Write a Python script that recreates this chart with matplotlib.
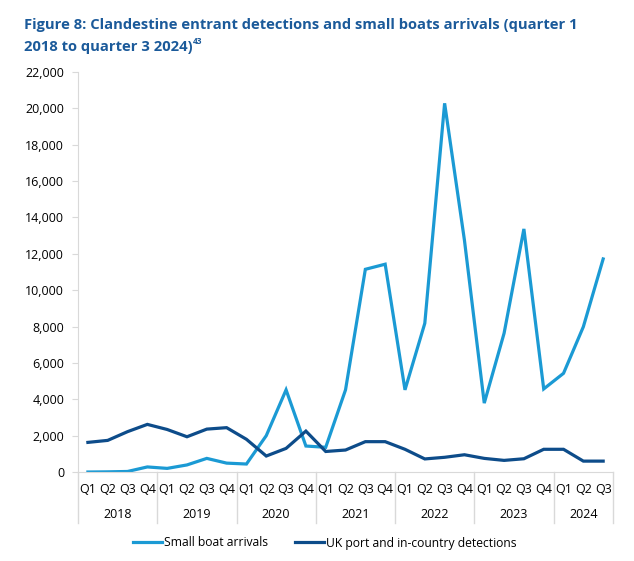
import matplotlib

matplotlib.use("Agg")
import matplotlib.pyplot as plt
from matplotlib.lines import Line2D
from matplotlib.transforms import blended_transform_factory

plt.rcParams["font.family"] = ["Open Sans", "DejaVu Sans"]

YEARS = ["2018", "2019", "2020", "2021", "2022", "2023", "2024"]
QUARTERS_PER_YEAR = [4, 4, 4, 4, 4, 4, 3]
QUARTER_LABELS = ["Q1", "Q2", "Q3", "Q4"] * 6 + ["Q1", "Q2", "Q3"]

small_boats = [0, 10, 30, 280, 200, 390, 750, 490,
               440, 2000, 4520, 1430, 1360, 4520, 11150, 11430,
               4520, 8180, 20280, 12750, 3790, 7630, 13370, 4570,
               5430, 7990, 11720]
uk_detections = [1630, 1740, 2220, 2620, 2340, 1940, 2360, 2440,
                 1800, 880, 1300, 2250, 1130, 1210, 1670, 1670,
                 1250, 720, 810, 950, 750, 640, 730, 1250,
                 1250, 600, 600]

LIGHT = "#1b9ad4"
DARK = "#0d4c8a"
GREY = "#d9d9d9"
FS = 9

fig = plt.figure(figsize=(6.34, 5.61), dpi=100)
ax = fig.add_axes([0.123, 0.1586, 0.844, 0.713])

x = list(range(len(small_boats)))
ax.plot(x, small_boats, color=LIGHT, lw=2.3, solid_joinstyle="miter",
        label="Small boat arrivals")
ax.plot(x, uk_detections, color=DARK, lw=2.3, solid_joinstyle="miter",
        label="UK port and in-country detections")

ax.set_xlim(-0.5, len(x) - 0.5)
ax.set_ylim(0, 22000)
ax.set_yticks(range(0, 22001, 2000))
ax.set_yticklabels([f"{v:,}" for v in range(0, 22001, 2000)], fontsize=FS)
ax.tick_params(axis="y", length=4, color=GREY, pad=6)
ax.set_xticks(x)
ax.set_xticklabels(QUARTER_LABELS, fontsize=FS)
ax.tick_params(axis="x", length=0, pad=8)

for side in ["top", "right"]:
    ax.spines[side].set_visible(False)
ax.spines["left"].set_color(GREY)
ax.spines["bottom"].set_color(GREY)

# year groups below the quarter labels
trans = blended_transform_factory(ax.transData, ax.transAxes)
edge = -0.5
sep_bottom = -0.128
for year, n in zip(YEARS, QUARTERS_PER_YEAR):
    ax.add_line(Line2D([edge, edge], [0, sep_bottom], transform=trans,
                       color=GREY, lw=1, clip_on=False))
    ax.text(edge + n / 2, -0.105, year, transform=trans, ha="center",
            va="center", fontsize=FS)
    edge += n
ax.add_line(Line2D([edge, edge], [0, sep_bottom], transform=trans,
                   color=GREY, lw=1, clip_on=False))

fig.legend(loc="center", bbox_to_anchor=(0.512, 1 - 543 / 561), ncol=2,
           frameon=False, fontsize=8.7, handlelength=2.4, handletextpad=0.2,
           columnspacing=2.2)

TITLE_COLOR = "#1b5a9a"
fig.text(24 / 634, 1 - 25 / 561, "Figure 8: Clandestine entrant detections and small boats arrivals (quarter 1",
         fontsize=10.6, fontweight="bold", color=TITLE_COLOR, va="center")
t2 = fig.text(24 / 634, 1 - 47 / 561, "2018 to quarter 3 2024)",
              fontsize=10.6, fontweight="bold", color=TITLE_COLOR, va="center")
renderer = fig.canvas.get_renderer()
bb = t2.get_window_extent(renderer)
fig.text(bb.x1 / 634 + 0.001, 1 - 42 / 561, "43", fontsize=6,
         fontweight="bold", color=TITLE_COLOR, va="center")

fig.savefig("out.png", dpi=100)
